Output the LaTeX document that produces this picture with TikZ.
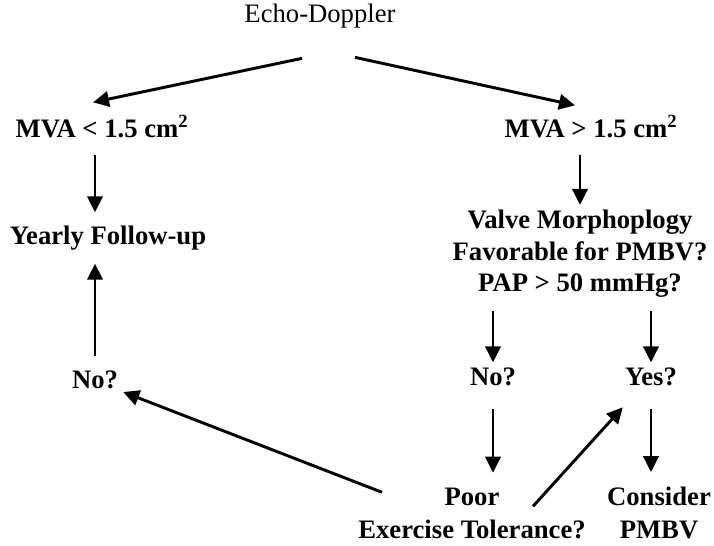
\documentclass[tikz,border=0pt]{standalone}
\usepackage{fontspec}
\setmainfont{Liberation Serif}
\usetikzlibrary{positioning,arrows.meta,calc}

\begin{document}
\begin{tikzpicture}[x=0.75pt,y=-0.75pt,
  txt/.style={font=\bfseries\fontsize{20}{23}\selectfont,inner sep=0pt,align=center},
  plain/.style={font=\fontsize{20}{23}\selectfont,inner sep=0pt,align=center},
  arr/.style={-{Triangle[length=12pt,width=11.5pt]},line width=2.2pt}]
\useasboundingbox (0,0) rectangle (714,546);
% boxes of text
\node[plain] (echo) at (320,16) {Echo-Doppler};
\node[txt] (mvaL) at (102,127) {MVA < 1.5 cm\textsuperscript{2}};
\node[txt] (mvaR) at (591,127) {MVA > 1.5 cm\textsuperscript{2}};
\node[txt] (follow) at (108,238) {Yearly Follow-up};
\node[txt] (noL) at (95,380) {No?};
\node[txt,font=\bfseries\fontsize{20}{23.5}\selectfont] (valve) at (580,254) {Valve Morphoplogy\\Favorable for PMBV?\\PAP > 50 mmHg?};
\node[txt] (noR) at (493,377) {No?};
\node[txt] (yes) at (651,377) {Yes?};
\node[txt,font=\bfseries\fontsize{20}{24.75}\selectfont] (poor) at (472,513) {Poor\\Exercise Tolerance?};
\node[txt,font=\bfseries\fontsize{20}{24.75}\selectfont] (consider) at (659,513) {Consider\\PMBV};
% connectors
\draw[arr] ([shift={(-18,30)}]echo.south) -- ([shift={(-9,-13)}]mvaL.north);
\draw[arr] ([shift={(35,29)}]echo.south) -- ([shift={(-16,-10)}]mvaR.north);
\draw[arr,shorten <=12pt,shorten >=10pt] (mvaL.south -| noL) -- (follow.north -| noL);
\draw[arr,shorten <=11pt,shorten >=10pt] (noL) -- (follow.south -| noL);
\draw[arr,shorten <=12pt,shorten >=4pt] (mvaR.south -| valve.north) -- (valve.north);
\draw[arr,shorten <=10pt,shorten >=4pt] (valve.south -| noR) -- (noR);
\draw[arr,shorten <=10pt,shorten >=4pt] (valve.south -| yes) -- (yes);
\draw[arr,shorten <=17pt,shorten >=11pt] (noR) -- (poor.north -| noR);
\draw[arr,shorten <=17pt,shorten >=11pt] (yes) -- (consider.north -| yes);
\draw[arr] ([shift={(61,19)}]poor.north) -- ([shift={(-2,21)}]yes.south west);
\draw[arr] ([shift={(24,5)}]poor.north west) -- ([shift={(5,12)}]noL.east);
\end{tikzpicture}
\end{document}
